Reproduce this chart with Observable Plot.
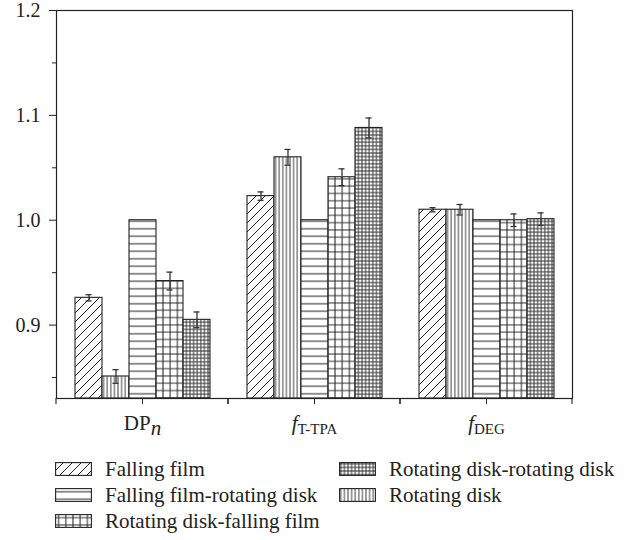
<!DOCTYPE html>
<html><head><meta charset="utf-8">
<script src="https://cdn.jsdelivr.net/npm/d3@7"></script>
<script src="https://cdn.jsdelivr.net/npm/@observablehq/plot@0.6"></script>
<style>
body{margin:0;background:#fff;font-family:"Liberation Serif","Times New Roman",Times,"DejaVu Serif",serif;color:#222;}
#legend{display:grid;grid-template-columns:284px auto;grid-template-rows:26px 26px 26px;grid-auto-flow:column;margin-left:55px;margin-top:11px;font-size:21px;}
.item{display:flex;align-items:center;white-space:nowrap;}
.item svg{margin-right:13px;flex:none;}
</style></head><body>
<svg width="0" height="0" style="position:absolute">
<defs>
<pattern id="p-ff" patternUnits="userSpaceOnUse" width="9" height="9">
<rect width="9" height="9" fill="#fff"/>
<path d="M-1,10 L10,-1 M-3,3 L3,-3 M6,12 L12,6" stroke="#222" stroke-width="1"/>
</pattern>
<pattern id="p-rd" patternUnits="userSpaceOnUse" width="3.6" height="10">
<rect width="3.6" height="10" fill="#fff"/>
<path d="M1.8,0 L1.8,10" stroke="#222" stroke-width="0.9"/>
</pattern>
<pattern id="p-ffrd" patternUnits="userSpaceOnUse" width="10" height="7.5">
<rect width="10" height="7.5" fill="#fff"/>
<path d="M0,3.75 L10,3.75" stroke="#222" stroke-width="1"/>
</pattern>
<pattern id="p-rdff" patternUnits="userSpaceOnUse" width="7.2" height="7.3">
<rect width="7.2" height="7.3" fill="#fff"/>
<path d="M3.6,0 L3.6,7.3 M0,3.65 L7.2,3.65" stroke="#222" stroke-width="1"/>
</pattern>
<pattern id="p-rdrd" patternUnits="userSpaceOnUse" width="3.6" height="3.6">
<rect width="3.6" height="3.6" fill="#fff"/>
<path d="M1.8,0 L1.8,3.6 M0,1.8 L3.6,1.8" stroke="#222" stroke-width="0.9"/>
</pattern>
</defs>
</svg>
<div id="chart"></div>
<div id="legend"></div>
<script>
// ---- data ----
const groups = ["DPn", "fT-TPA", "fDEG"];
const series = ["Falling film", "Rotating disk", "Falling film-rotating disk", "Rotating disk-falling film", "Rotating disk-rotating disk"];
const dpnValues = [0.926, 0.851, 1.000, 0.942, 0.905];
const dpnErrors = [0.003, 0.0065, 0, 0.0085, 0.0075];
const tpaValues = [1.023, 1.060, 1.000, 1.041, 1.088];
const tpaErrors = [0.004, 0.0075, 0, 0.008, 0.0095];
const degValues = [1.010, 1.010, 1.000, 1.000, 1.001];
const degErrors = [0.002, 0.005, 0, 0.006, 0.006];
const yTicks = [0.9, 1.0, 1.1, 1.2];
const yMinorTicks = [0.85, 0.95, 1.05, 1.15];
const yDomain = [0.83, 1.2];
const legendOrder = ["Falling film", "Falling film-rotating disk", "Rotating disk-falling film", "Rotating disk-rotating disk", "Rotating disk"];
const patternIds = ["p-ff", "p-rd", "p-ffrd", "p-rdff", "p-rdrd"];

// ---- table ----
const valueSets = [dpnValues, tpaValues, degValues];
const errorSets = [dpnErrors, tpaErrors, degErrors];
const rows = [];
groups.forEach((g, gi) => series.forEach((s, si) => rows.push({group: g, series: s, value: valueSets[gi][si], err: errorSets[gi][si]})));
const hasErr = d => d.err > 0;

const serif = "'Liberation Serif', 'Times New Roman', Times, 'DejaVu Serif', serif";

const separators = (index, scales, values, dim) => {
  const g = d3.create("svg:g").attr("stroke", "#222").attr("stroke-width", 1.1);
  const yb = dim.height - dim.marginBottom;
  [dim.marginLeft, dim.width - dim.marginRight].forEach(x =>
    g.append("line").attr("x1", x).attr("x2", x).attr("y1", yb).attr("y2", yb + 6));
  return g.node();
};

const chart = Plot.plot({
  width: 633,
  height: 445,
  marginLeft: 55,
  marginRight: 61,
  marginTop: 10,
  marginBottom: 47,
  style: {fontFamily: serif, color: "#222", background: "#fff"},
  facet: {data: rows, x: "group"},
  fx: {domain: groups, padding: 0, label: null},
  x: {domain: series, axis: null, paddingInner: 0, paddingOuter: 0.575},
  y: {domain: yDomain, label: null},
  color: {domain: series, range: patternIds.map(id => `url(#${id})`)},
  marks: [
    Plot.barY(rows, {x: "series", y1: yDomain[0], y2: "value", fill: "series", stroke: "#222", strokeWidth: 1.1}),
    Plot.ruleX(rows, {filter: hasErr, x: "series", y1: d => d.value - d.err, y2: d => d.value + d.err, stroke: "#333", strokeWidth: 1.3}),
    Plot.tickY(rows, {filter: hasErr, x: "series", y: d => d.value + d.err, stroke: "#333", strokeWidth: 1.3, insetLeft: 10.5, insetRight: 10.5}),
    Plot.tickY(rows, {filter: hasErr, x: "series", y: d => d.value - d.err, stroke: "#333", strokeWidth: 1.3, insetLeft: 10.5, insetRight: 10.5}),
    Plot.frame({facet: "super", stroke: "#222", strokeWidth: 1.2}),
    separators,
    Plot.axisY({ticks: yTicks, tickFormat: ".1f", tickSize: 7, tickPadding: 9, fontSize: 20, label: null}),
    Plot.axisY({ticks: yMinorTicks, tickFormat: () => "", tickSize: 4, label: null}),
    Plot.axisFx({anchor: "bottom", tickSize: 6, tickPadding: 11, fontSize: 21, label: null})
  ]
});
document.getElementById("chart").appendChild(chart);

// rich tick labels for the categories
const rich = {
  "DPn": [["DP", {}], ["n", {"font-style": "italic", "dy": "0.2em"}]],
  "fT-TPA": [["f", {"font-style": "italic"}], ["T-TPA", {"font-size": "15px", "dy": "0.25em"}]],
  "fDEG": [["f", {"font-style": "italic"}], ["DEG", {"font-size": "15px", "dy": "0.25em"}]]
};
d3.select(chart).selectAll("text").each(function() {
  const t = this.textContent;
  if (rich[t] && this.childElementCount === 0) {
    const sel = d3.select(this);
    sel.text(null);
    rich[t].forEach(([str, attrs]) => {
      const ts = sel.append("tspan").text(str);
      Object.entries(attrs).forEach(([k, v]) => ts.attr(k, v));
    });
  }
});

// legend
const legend = d3.select("#legend");
legendOrder.forEach(name => {
  const i = series.indexOf(name);
  const item = legend.append("div").attr("class", "item");
  const sw = item.append("svg").attr("width", 37).attr("height", 14);
  sw.append("rect").attr("x", 0.6).attr("y", 0.6).attr("width", 35.8).attr("height", 12.8)
    .attr("fill", `url(#${patternIds[i]})`).attr("stroke", "#222").attr("stroke-width", 1.1);
  item.append("span").text(name);
});
</script>
</body></html>
